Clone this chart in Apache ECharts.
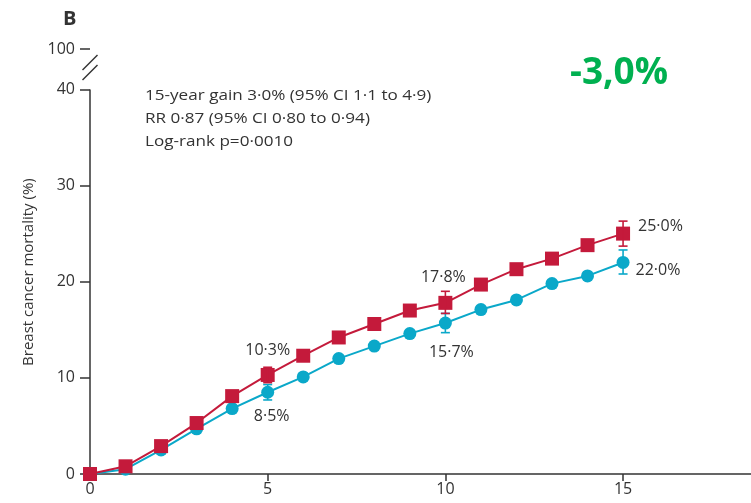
<!DOCTYPE html>
<html>
<head>
<meta charset="utf-8">
<script src="https://cdn.jsdelivr.net/npm/echarts@6/dist/echarts.min.js"></script>
<style>
  html, body { margin: 0; padding: 0; background: #fff; }
  #chart { width: 751px; height: 503px; }
</style>
</head>
<body>
<div id="chart"></div>
<script>
// Years of follow-up
const years = [0, 1, 2, 3, 4, 5, 6, 7, 8, 9, 10, 11, 12, 13, 14, 15];

// Cumulative breast cancer mortality (%)
const controlMortality = [0, 0.8, 2.9, 5.3, 8.1, 10.3, 12.3, 14.2, 15.6, 17.0, 17.8, 19.7, 21.3, 22.4, 23.8, 25.0];
const screenedMortality = [0, 0.5, 2.5, 4.7, 6.8, 8.5, 10.1, 12.0, 13.3, 14.6, 15.7, 17.1, 18.1, 19.8, 20.6, 22.0];

// 95% CI at 5, 10 and 15 years: [year, low, high]
const controlCI = [[5, 9.5, 11.1], [10, 16.7, 19.0], [15, 23.7, 26.3]];
const screenedCI = [[5, 7.7, 9.3], [10, 14.7, 16.7], [15, 20.8, 23.3]];

const xTicks = [0, 5, 10, 15];
const yTicks = [0, 10, 20, 30, 40, 100];

const statsLines = [
  '15-year gain 3·0% (95% CI 1·1 to 4·9)',
  'RR 0·87 (95% CI 0·80 to 0·94)',
  'Log-rank p=0·0010'
];
const yTitle = 'Breast cancer mortality (%)';
const panelLetter = 'B';
const headline = '-3,0%';

const RED = '#c41a3b';
const BLUE = '#0aa8c9';
const INK = '#333333';
const FONT = '"Open Sans", "Noto Sans", sans-serif';

const fmtPct = v => v.toFixed(1).replace('.', '·') + '%';

// Label placement for the annotated years
const controlLabels = {
  5: { position: 'top', distance: 10, offset: [0, 0] },
  10: { position: 'top', distance: 10, offset: [-2, 0] },
  15: { position: 'right', distance: 8, offset: [0, -7] }
};
const screenedLabels = {
  5: { position: 'bottom', distance: 10, offset: [4, 0] },
  10: { position: 'bottom', distance: 15, offset: [6, 0] },
  15: { position: 'right', distance: 6, offset: [0, 8] }
};

function buildPoints(values, labels) {
  return years.map((yr, i) => {
    const item = { value: [yr, values[i]] };
    if (labels[yr]) {
      item.label = Object.assign({
        show: true,
        formatter: p => fmtPct(p.value[1]),
        color: INK,
        fontSize: 16,
        fontFamily: FONT
      }, labels[yr]);
    }
    return item;
  });
}

function errorBarSeries(data, color, z) {
  return {
    type: 'custom',
    z: z,
    data: data,
    renderItem: (params, api) => {
      const x = api.value(0);
      const lo = api.coord([x, api.value(1)]);
      const hi = api.coord([x, api.value(2)]);
      const cap = 4.5;
      const style = { stroke: color, lineWidth: 1.6 };
      return {
        type: 'group',
        children: [
          { type: 'line', shape: { x1: lo[0], y1: lo[1], x2: hi[0], y2: hi[1] }, style },
          { type: 'line', shape: { x1: lo[0] - cap, y1: lo[1], x2: lo[0] + cap, y2: lo[1] }, style },
          { type: 'line', shape: { x1: hi[0] - cap, y1: hi[1], x2: hi[0] + cap, y2: hi[1] }, style }
        ]
      };
    }
  };
}

const chart = echarts.init(document.getElementById('chart'), null, { renderer: 'canvas' });

const option = {
  animation: false,
  backgroundColor: '#ffffff',
  grid: { left: 90, top: 49, right: 0, bottom: 29, containLabel: false },
  xAxis: {
    type: 'value',
    min: 0,
    max: 18.6,
    interval: 5,
    axisLine: { show: true, lineStyle: { color: INK, width: 1.5 } },
    axisTick: { show: true, length: 7, lineStyle: { color: INK, width: 1.5 }, customValues: xTicks },
    axisLabel: { color: INK, fontSize: 16, fontFamily: FONT, margin: 7, customValues: xTicks },
    splitLine: { show: false }
  },
  yAxis: {
    type: 'value',
    min: 0,
    max: 100,
    interval: 10,
    breaks: [{ start: 40, end: 100, gap: 4.2 }],
    breakArea: { show: false },
    axisLine: { show: true, lineStyle: { color: INK, width: 1.5 } },
    axisTick: { show: true, length: 10, lineStyle: { color: INK, width: 1.5 }, customValues: yTicks },
    axisLabel: { color: INK, fontSize: 16, fontFamily: FONT, margin: 15, customValues: yTicks },
    splitLine: { show: false }
  },
  series: [
    {
      name: 'Screened',
      type: 'line',
      z: 3,
      data: buildPoints(screenedMortality, screenedLabels),
      symbol: 'circle',
      symbolSize: 13,
      lineStyle: { color: BLUE, width: 2 },
      itemStyle: { color: BLUE },
      emphasis: { disabled: true }
    },
    errorBarSeries(screenedCI, BLUE, 4),
    {
      name: 'Control',
      type: 'line',
      z: 5,
      data: buildPoints(controlMortality, controlLabels),
      symbol: 'rect',
      symbolSize: 14,
      lineStyle: { color: RED, width: 2 },
      itemStyle: { color: RED },
      emphasis: { disabled: true }
    },
    errorBarSeries(controlCI, RED, 6)
  ]
};

chart.setOption(option);

// Axis title, panel letter, statistics block, headline difference and axis-break marks
const axisX = chart.convertToPixel({ xAxisIndex: 0 }, 0);
const yMidTitle = chart.convertToPixel({ yAxisIndex: 0 }, 21);
const breakTop = 62.5;
const breakBottom = 72.5;
const half = 7.5;

chart.setOption({
  graphic: [
    {
      type: 'text', x: 29, y: yMidTitle, rotation: Math.PI / 2,
      style: { text: yTitle, font: '15px ' + FONT, fill: INK, align: 'center', verticalAlign: 'middle' }
    },
    {
      type: 'text', x: 63, y: 9,
      style: { text: panelLetter, font: 'bold 20px ' + FONT, fill: INK, verticalAlign: 'top' }
    },
    {
      type: 'text', x: 145, y: 84, scaleX: 1.14,
      style: { text: statsLines.join('\n'), font: '15px ' + FONT, fill: INK, lineHeight: 23, verticalAlign: 'top' }
    },
    {
      type: 'text', x: 570, y: 55,
      style: { text: headline, font: 'bold 37px ' + FONT, fill: '#00b050', verticalAlign: 'top' }
    },
    {
      type: 'rect', z: 100,
      shape: { x: axisX - 4, y: breakTop, width: 8, height: breakBottom - breakTop },
      style: { fill: '#ffffff' }
    },
    {
      type: 'line', z: 101,
      shape: { x1: axisX - half, y1: breakTop + half, x2: axisX + half, y2: breakTop - half },
      style: { stroke: INK, lineWidth: 1.5 }
    },
    {
      type: 'line', z: 101,
      shape: { x1: axisX - half, y1: breakBottom + half, x2: axisX + half, y2: breakBottom - half },
      style: { stroke: INK, lineWidth: 1.5 }
    }
  ]
});
</script>
</body>
</html>
